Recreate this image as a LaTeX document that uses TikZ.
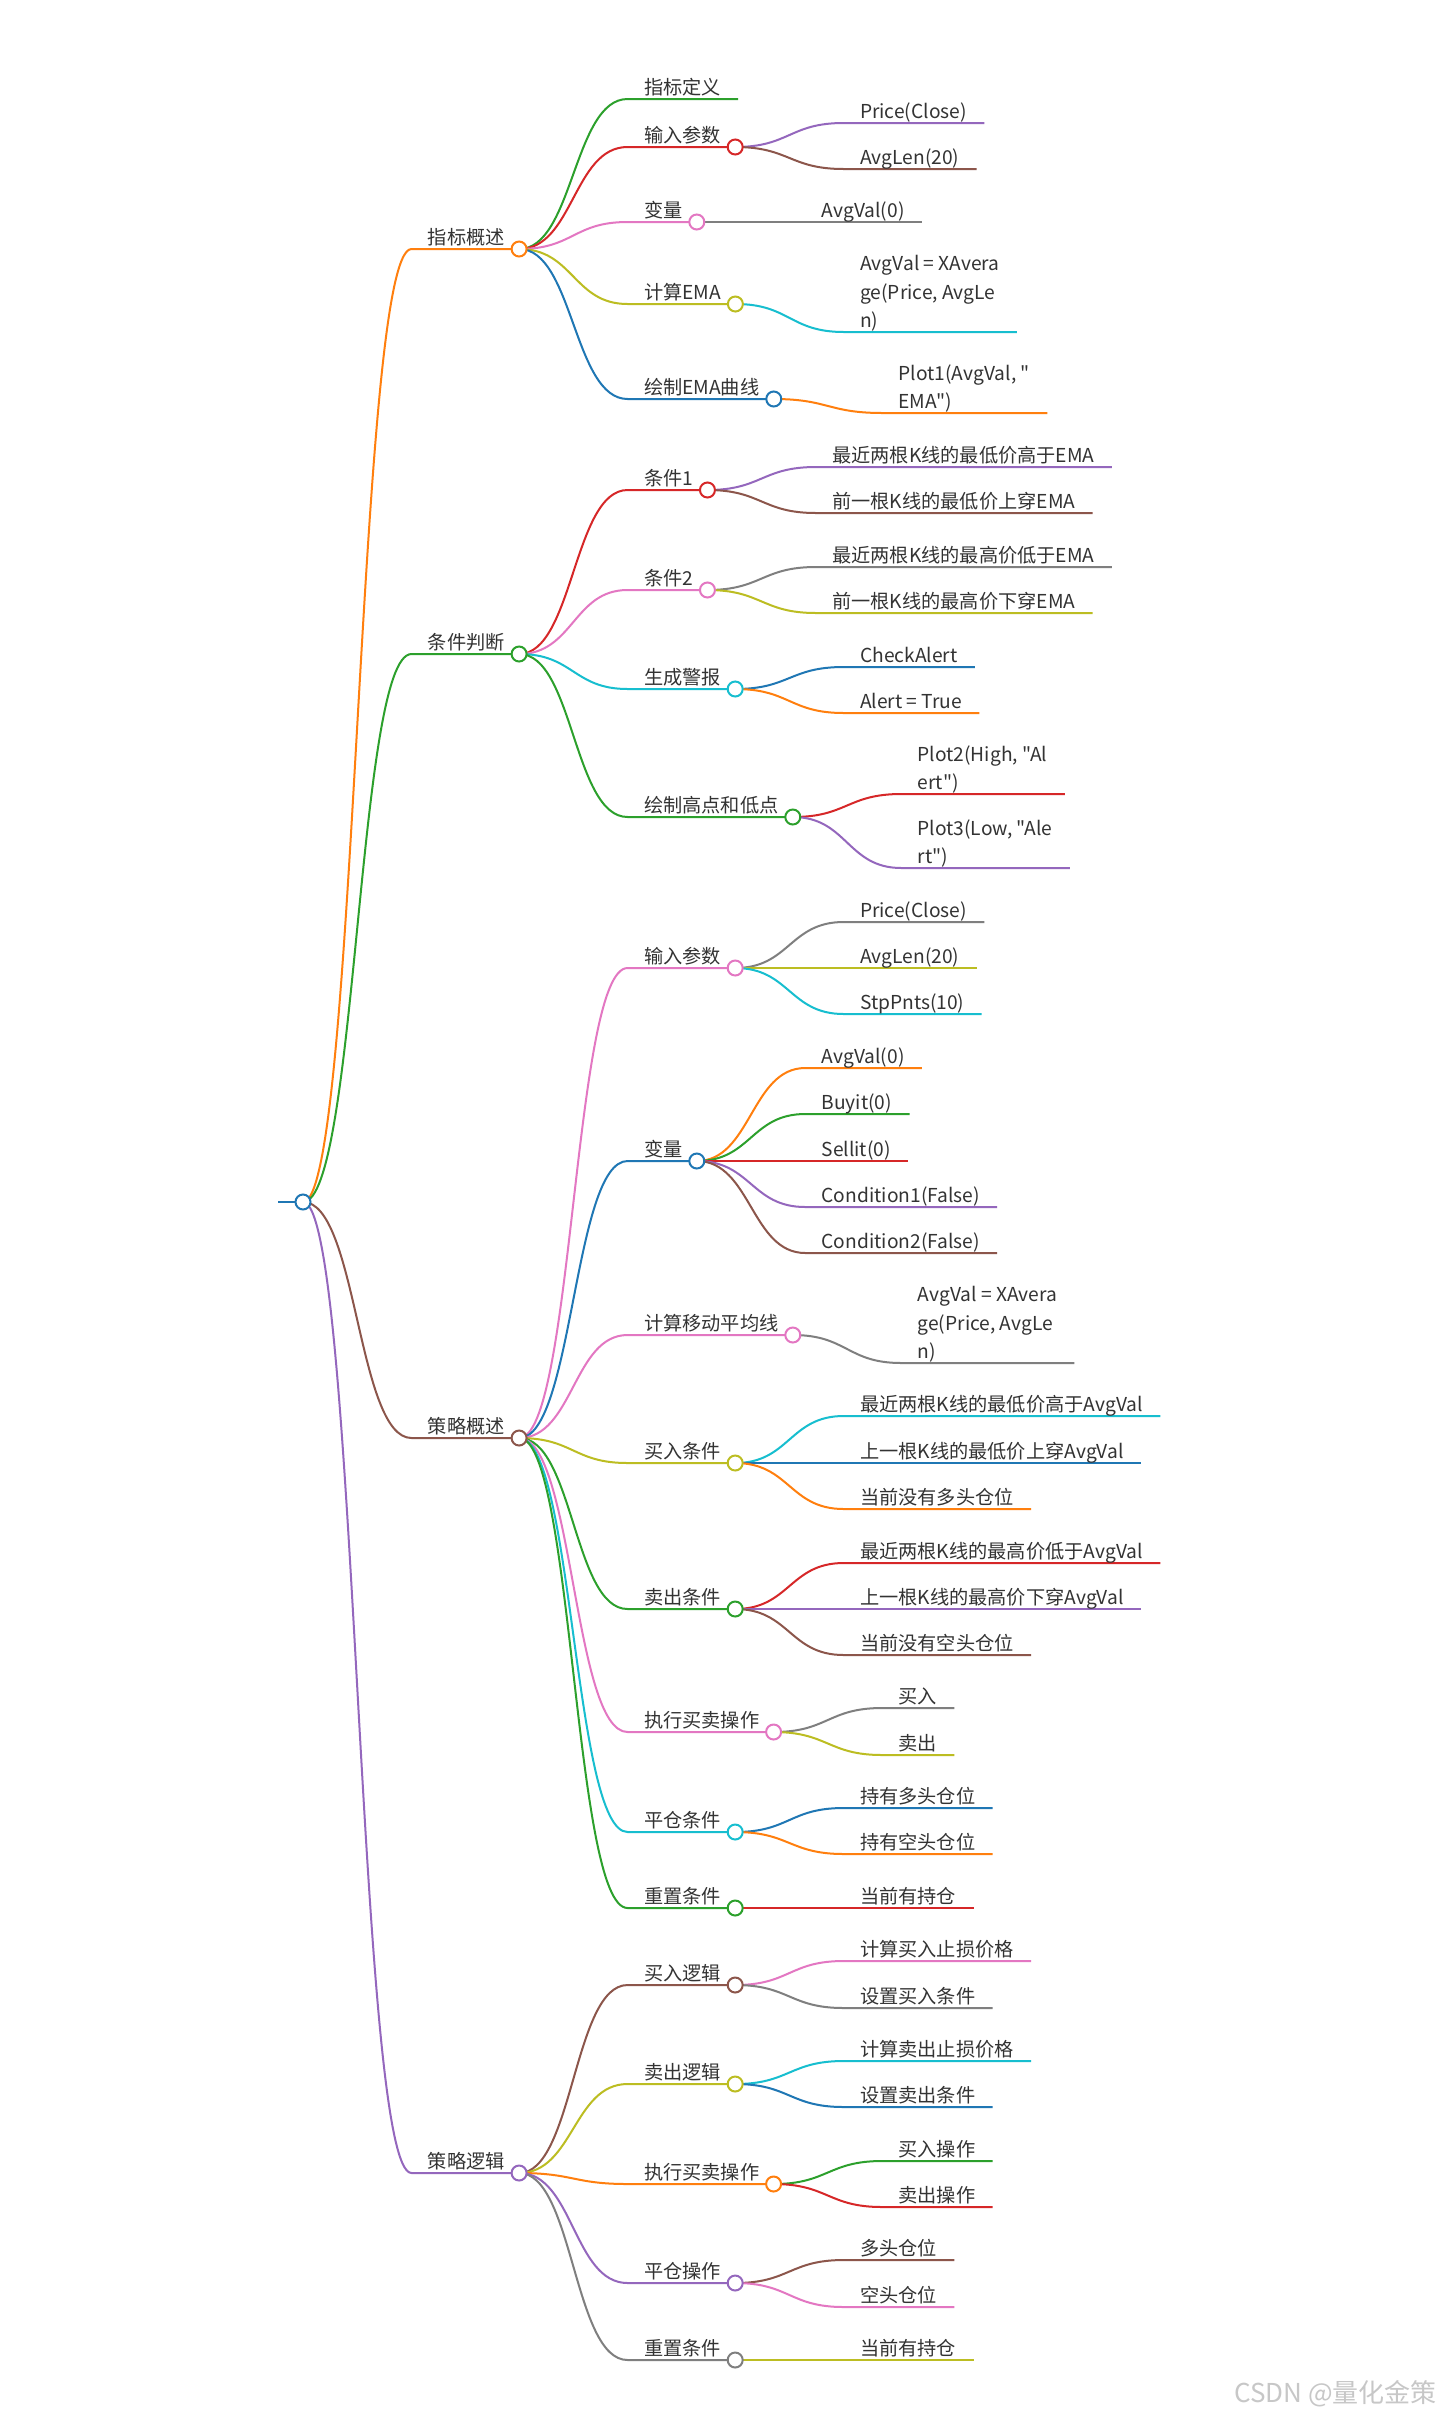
\documentclass[tikz,border=0pt]{standalone}
\usepackage{fontspec}
\setmainfont{Noto Sans CJK SC}[Ligatures=TeXOff]
\usetikzlibrary{calc}
\pgfdeclarelayer{background}
\pgfsetlayers{background,main}

\definecolor{mmblue}{HTML}{1F77B4}
\definecolor{mmorange}{HTML}{FF7F0E}
\definecolor{mmgreen}{HTML}{2CA02C}
\definecolor{mmred}{HTML}{D62728}
\definecolor{mmpurple}{HTML}{9467BD}
\definecolor{mmbrown}{HTML}{8C564B}
\definecolor{mmpink}{HTML}{E377C2}
\definecolor{mmgray}{HTML}{7F7F7F}
\definecolor{mmolive}{HTML}{BCBD22}
\definecolor{mmcyan}{HTML}{17BECF}
\definecolor{mmtext}{HTML}{333333}

\tikzset{
  twig/.style={draw=#1, line width=1pt},
  bud/.style={circle, draw=#1, fill=white, line width=1pt, inner sep=0pt, minimum size=7.5pt},
  topic/.style={inner sep=0pt, text=mmtext, font=\fontsize{9.6pt}{14.2pt}\selectfont, align=left},
}

\begin{document}
\begin{tikzpicture}[x=0.5pt, y=-0.5pt]
    % parent, name, colour, line y, text
    \def\mmnode#1#2#3#4#5{%
      \path let \p1=(#1) in node[topic, anchor=base west] (#2) at (\x1+62.25pt,{(4.5-#4)*0.5pt}) {#5};
      \begin{pgfonlayer}{background}
        \draw[twig=#3] let \p1=(#1), \p2=(#2.base east) in (\p1) .. controls (\x1+27.125pt,\y1) and (\x1+27.125pt,{-#4*0.5pt}) .. (\x1+54.25pt,{-#4*0.5pt}) -- (\x2+7pt,{-#4*0.5pt});
      \end{pgfonlayer}
      \path let \p2=(#2.base east) in node[bud=#3] (#2c) at (\x2+7pt,{-#4*0.5pt}) {};
    }
    % same, without the circle at the end (base of a wrapped text is its last line)
    \def\mmleaf#1#2#3#4#5{%
      \path let \p1=(#1) in node[topic, anchor=base west] (#2) at (\x1+62.25pt,{(4.5-#4)*0.5pt}) {#5};
      \begin{pgfonlayer}{background}
        \draw[twig=#3] let \p1=(#1), \p2=(#2.base east) in (\p1) .. controls (\x1+27.125pt,\y1) and (\x1+27.125pt,{-#4*0.5pt}) .. (\x1+54.25pt,{-#4*0.5pt}) -- (\x2+8.5pt,{-#4*0.5pt});
      \end{pgfonlayer}
    }

    \begin{pgfonlayer}{background}
      \fill[white] (0,0) rectangle (1440,2421);
    \end{pgfonlayer}
    \useasboundingbox (0,0) rectangle (1440,2421);

    % Root
    \coordinate (stub) at (278,1202);
    \node[bud=mmblue] (rootc) at (303,1202) {};
    \begin{pgfonlayer}{background}
      \draw[twig=mmblue] (stub) -- (rootc);
    \end{pgfonlayer}

    % 指标概述
    \mmnode{rootc}{ind}{mmorange}{249}{指标概述}
    \mmleaf{indc}{ind1}{mmgreen}{99}{指标定义}
    \mmnode{indc}{ind2}{mmred}{147}{输入参数}
    \mmleaf{ind2c}{ind21}{mmpurple}{123}{Price(Close)}
    \mmleaf{ind2c}{ind22}{mmbrown}{169}{AvgLen(20)}
    \mmnode{indc}{ind3}{mmpink}{222}{变量}
    \mmleaf{ind3c}{ind31}{mmgray}{222}{AvgVal(0)}
    \mmnode{indc}{ind4}{mmolive}{304}{计算EMA}
    \mmleaf{ind4c}{ind41}{mmcyan}{332}{AvgVal = XAvera\\ge(Price, AvgLe\\n)}
    \mmnode{indc}{ind5}{mmblue}{399}{绘制EMA曲线}
    \mmleaf{ind5c}{ind51}{mmorange}{413}{Plot1(AvgVal, "\\EMA")}

    % 条件判断
    \mmnode{rootc}{cond}{mmgreen}{654}{条件判断}
    \mmnode{condc}{cond1}{mmred}{490}{条件1}
    \mmleaf{cond1c}{cond11}{mmpurple}{467}{最近两根K线的最低价高于EMA}
    \mmleaf{cond1c}{cond12}{mmbrown}{513}{前一根K线的最低价上穿EMA}
    \mmnode{condc}{cond2}{mmpink}{590}{条件2}
    \mmleaf{cond2c}{cond21}{mmgray}{567}{最近两根K线的最高价低于EMA}
    \mmleaf{cond2c}{cond22}{mmolive}{613}{前一根K线的最高价下穿EMA}
    \mmnode{condc}{cond3}{mmcyan}{689}{生成警报}
    \mmleaf{cond3c}{cond31}{mmblue}{667}{CheckAlert}
    \mmleaf{cond3c}{cond32}{mmorange}{713}{Alert = True}
    \mmnode{condc}{cond4}{mmgreen}{817}{绘制高点和低点}
    \mmleaf{cond4c}{cond41}{mmred}{794}{Plot2(High, "Al\\ert")}
    \mmleaf{cond4c}{cond42}{mmpurple}{868}{Plot3(Low, "Ale\\rt")}

    % 策略概述
    \mmnode{rootc}{plan}{mmbrown}{1438}{策略概述}
    \mmnode{planc}{plan1}{mmpink}{968}{输入参数}
    \mmleaf{plan1c}{plan11}{mmgray}{922}{Price(Close)}
    \mmleaf{plan1c}{plan12}{mmolive}{968}{AvgLen(20)}
    \mmleaf{plan1c}{plan13}{mmcyan}{1014}{StpPnts(10)}
    \mmnode{planc}{plan2}{mmblue}{1161}{变量}
    \mmleaf{plan2c}{plan21}{mmorange}{1068}{AvgVal(0)}
    \mmleaf{plan2c}{plan22}{mmgreen}{1114}{Buyit(0)}
    \mmleaf{plan2c}{plan23}{mmred}{1161}{Sellit(0)}
    \mmleaf{plan2c}{plan24}{mmpurple}{1207}{Condition1(False)}
    \mmleaf{plan2c}{plan25}{mmbrown}{1253}{Condition2(False)}
    \mmnode{planc}{plan3}{mmpink}{1335}{计算移动平均线}
    \mmleaf{plan3c}{plan31}{mmgray}{1363}{AvgVal = XAvera\\ge(Price, AvgLe\\n)}
    \mmnode{planc}{plan4}{mmolive}{1463}{买入条件}
    \mmleaf{plan4c}{plan41}{mmcyan}{1416}{最近两根K线的最低价高于AvgVal}
    \mmleaf{plan4c}{plan42}{mmblue}{1463}{上一根K线的最低价上穿AvgVal}
    \mmleaf{plan4c}{plan43}{mmorange}{1509}{当前没有多头仓位}
    \mmnode{planc}{plan5}{mmgreen}{1609}{卖出条件}
    \mmleaf{plan5c}{plan51}{mmred}{1563}{最近两根K线的最高价低于AvgVal}
    \mmleaf{plan5c}{plan52}{mmpurple}{1609}{上一根K线的最高价下穿AvgVal}
    \mmleaf{plan5c}{plan53}{mmbrown}{1655}{当前没有空头仓位}
    \mmnode{planc}{plan6}{mmpink}{1732}{执行买卖操作}
    \mmleaf{plan6c}{plan61}{mmgray}{1708}{买入}
    \mmleaf{plan6c}{plan62}{mmolive}{1755}{卖出}
    \mmnode{planc}{plan7}{mmcyan}{1832}{平仓条件}
    \mmleaf{plan7c}{plan71}{mmblue}{1808}{持有多头仓位}
    \mmleaf{plan7c}{plan72}{mmorange}{1854}{持有空头仓位}
    \mmnode{planc}{plan8}{mmgreen}{1908}{重置条件}
    \mmleaf{plan8c}{plan81}{mmred}{1908}{当前有持仓}

    % 策略逻辑
    \mmnode{rootc}{logic}{mmpurple}{2173}{策略逻辑}
    \mmnode{logicc}{logic1}{mmbrown}{1985}{买入逻辑}
    \mmleaf{logic1c}{logic11}{mmpink}{1961}{计算买入止损价格}
    \mmleaf{logic1c}{logic12}{mmgray}{2008}{设置买入条件}
    \mmnode{logicc}{logic2}{mmolive}{2084}{卖出逻辑}
    \mmleaf{logic2c}{logic21}{mmcyan}{2061}{计算卖出止损价格}
    \mmleaf{logic2c}{logic22}{mmblue}{2107}{设置卖出条件}
    \mmnode{logicc}{logic3}{mmorange}{2184}{执行买卖操作}
    \mmleaf{logic3c}{logic31}{mmgreen}{2161}{买入操作}
    \mmleaf{logic3c}{logic32}{mmred}{2207}{卖出操作}
    \mmnode{logicc}{logic4}{mmpurple}{2283}{平仓操作}
    \mmleaf{logic4c}{logic41}{mmbrown}{2260}{多头仓位}
    \mmleaf{logic4c}{logic42}{mmpink}{2307}{空头仓位}
    \mmnode{logicc}{logic5}{mmgray}{2360}{重置条件}
    \mmleaf{logic5c}{logic51}{mmolive}{2360}{当前有持仓}

    % Watermark
    \node[anchor=base east, inner sep=0pt, text=black!22, font=\fontsize{13pt}{15pt}\selectfont] (mark) at (1437,2402) {CSDN @量化金策};
\end{tikzpicture}
\end{document}
